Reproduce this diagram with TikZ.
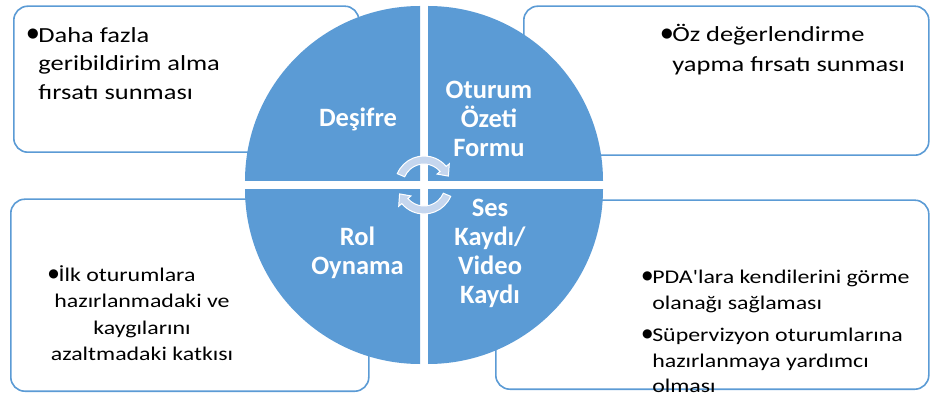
\documentclass[tikz,border=0pt]{standalone}
\usepackage{fontspec}
\setmainfont{Carlito}
\newfontfamily\boxfont[FakeStretch=1.23]{Carlito}
\newfontfamily\dotfont{DejaVu Sans}
\usetikzlibrary{positioning}
\definecolor{smartblue}{RGB}{91,155,213}
\definecolor{cyclefill}{RGB}{197,214,238}
\newcommand{\bulletmark}{\makebox[0.52em][l]{\raisebox{0.2em}{\dotfont\scalebox{0.62}{●}}}}
\newcommand{\hangin}{\hspace*{0.52em}}

\begin{document}
\begin{tikzpicture}[x=1pt, y=1pt,
  box/.style={draw=smartblue, line width=1.6pt, rounded corners=14pt, fill=white, inner sep=0, anchor=south west},
  quad/.style={fill=smartblue},
  lbl/.style={text=white, font=\bfseries\fontsize{26.5}{29}\selectfont, align=center, inner sep=0, anchor=base},
  note/.style={inner sep=0, anchor=base west, align=left}]
\useasboundingbox (0,0) rectangle (930,394);
\node[box, minimum width=345pt, minimum height=146pt] (boxTL) at (13,241) {};
\node[box, minimum width=405pt, minimum height=149pt] (boxTR) at (523,238) {};
\node[box, minimum width=358pt, minimum height=192pt] (boxBL) at (10,2) {};
\node[box, minimum width=433pt, minimum height=189pt] (boxBR) at (495,4) {};
\coordinate (hub) at (424,209);
\foreach \a in {0,90,180,270}
  \fill[quad] ([shift={({\a+45}:5.66pt)}]hub) -- ++(\a:175pt) arc[start angle=\a, end angle=\a+90, radius=175pt] -- cycle;
% base anchor = baseline of the last line
\node[lbl] (desifre) at (358,267.3) {Deşifre};
\node[lbl] (ozet) at (489,237.7) {Oturum\\Özeti\\Formu};
\node[lbl] (rol) at (357.5,119) {Rol\\Oynama};
\node[lbl] (kayit) at (490,90.7) {Ses\\Kaydı/\\Video\\Kaydı};
\foreach \a in {0,180}
  \filldraw[fill=cyclefill, draw=white, line width=1pt] ([shift={({157+\a}:29pt)}]hub) arc[start angle=157+\a, end angle=40+\a, radius=29pt]
    -- ([shift={({40+\a}:33pt)}]hub) -- ([shift={({20+\a}:26pt)}]hub) -- ([shift={({40+\a}:17pt)}]hub)
    -- ([shift={({40+\a}:21pt)}]hub) arc[start angle=40+\a, end angle=157+\a, radius=21pt] -- cycle;
\node[note, font=\boxfont\fontsize{21.5}{28.5}\selectfont] (txtTL) at (27,294.8)
  {\bulletmark Daha fazla\\ \hangin geribildirim alma\\ \hangin fırsatı sunması};
\node[note, font=\boxfont\fontsize{21.5}{30}\selectfont] (txtTR) at (661,322.3)
  {\bulletmark Öz değerlendirme\\ \hangin yapma fırsatı sunması};
\node[note, anchor=base, align=center, font=\boxfont\fontsize{19.4}{26.6}\selectfont] (txtBL) at (142,33.2)
  {\bulletmark İlk oturumlara\hspace*{40pt}\\ hazırlanmadaki ve\\ kaygılarını\\ azaltmadaki katkısı};
\node[note, font=\boxfont\fontsize{19.4}{25.5}\selectfont] (txtBR) at (642,1.5)
  {\bulletmark PDA'lara kendilerini görme\\ \hangin olanağı sağlaması\\[7pt] \bulletmark Süpervizyon oturumlarına\\ \hangin hazırlanmaya yardımcı\\ \hangin olması};
\end{tikzpicture}
\end{document}
